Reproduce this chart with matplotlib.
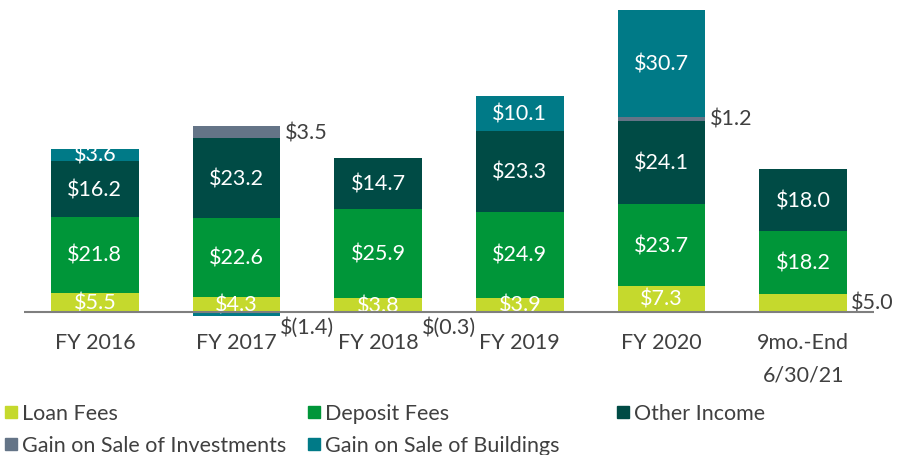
import matplotlib
matplotlib.use("Agg")
import matplotlib.pyplot as plt
from matplotlib.patches import Rectangle
import numpy as np

categories = ["FY 2016", "FY 2017", "FY 2018", "FY 2019", "FY 2020", "9mo.-End\n6/30/21"]
loan_fees = [5.5, 4.3, 3.8, 3.9, 7.3, 5.0]
deposit_fees = [21.8, 22.6, 25.9, 24.9, 23.7, 18.2]
other_income = [16.2, 23.2, 14.7, 23.3, 24.1, 18.0]
gain_investments = [0.0, 3.5, -0.3, 0.0, 1.2, 0.0]
gain_buildings = [3.6, -1.4, 0.0, 10.1, 30.7, 0.0]

series_names = ["Loan Fees", "Deposit Fees", "Other Income",
                "Gain on Sale of Investments", "Gain on Sale of Buildings"]
colors = ["#C5D92D", "#009639", "#004B45", "#647487", "#007A87"]

FONT = ["Lato", "DejaVu Sans"]
plt.rcParams['font.family'] = FONT
FS = 15.5
TXT = "#404040"

fig = plt.figure(figsize=(9.09, 4.56), dpi=100)
ax = fig.add_axes([24/909, 1-319.5/456, 850/909, 311.5/456])

x = np.arange(len(categories))
width = 0.62
all_series = [loan_fees, deposit_fees, other_income, gain_investments, gain_buildings]

pos_bottom = np.zeros(len(categories))
neg_bottom = np.zeros(len(categories))
for si, (vals, col) in enumerate(zip(all_series, colors)):
    vals = np.array(vals, dtype=float)
    bottoms = np.where(vals >= 0, pos_bottom, neg_bottom)
    ax.bar(x, vals, width, bottom=bottoms, color=col, linewidth=0)
    for i, v in enumerate(vals):
        if v == 0:
            continue
        label = f"${v:.1f}" if v > 0 else f"$({abs(v):.1f})"
        if v < 0:
            ax.text(x[i] + 0.5, -4.4, label, ha="center", va="center",
                    fontsize=FS, color=TXT)
        elif v < 3 or (si == 3) or (si == 0 and i == 5):
            ax.text(x[i] + width/2 + 0.03, bottoms[i] + v/2, label, ha="left",
                    va="center", fontsize=FS, color=TXT)
        else:
            ax.text(x[i], bottoms[i] + v/2, label, ha="center", va="center",
                    fontsize=FS, color="white")
    pos_bottom = pos_bottom + np.where(vals > 0, vals, 0)
    neg_bottom = neg_bottom + np.where(vals < 0, vals, 0)

ax.axhline(0, color="#7F7F7F", linewidth=1.5, zorder=3)
ax.set_xlim(-0.5, 5.5)
ax.set_ylim(-2, 88)
for s in ax.spines.values():
    s.set_visible(False)
ax.set_yticks([])
ax.set_xticks(x)
ax.set_xticklabels(categories, fontsize=FS, color=TXT, linespacing=1.75)
ax.tick_params(axis="x", length=0, pad=10)

# legend
leg_pos = [(5, 413), (308, 413), (617, 413), (5, 445), (308, 445)]
for (px, py), name, col in zip(leg_pos, series_names, colors):
    fig.patches.append(Rectangle((px/909, 1-(py+6)/456), 12/909, 12/456,
                                 transform=fig.transFigure, color=col))
    fig.text((px+17)/909, 1-(py+1)/456, name, ha="left", va="center",
             fontsize=FS, color=TXT)

fig.savefig("out.png", dpi=100)
